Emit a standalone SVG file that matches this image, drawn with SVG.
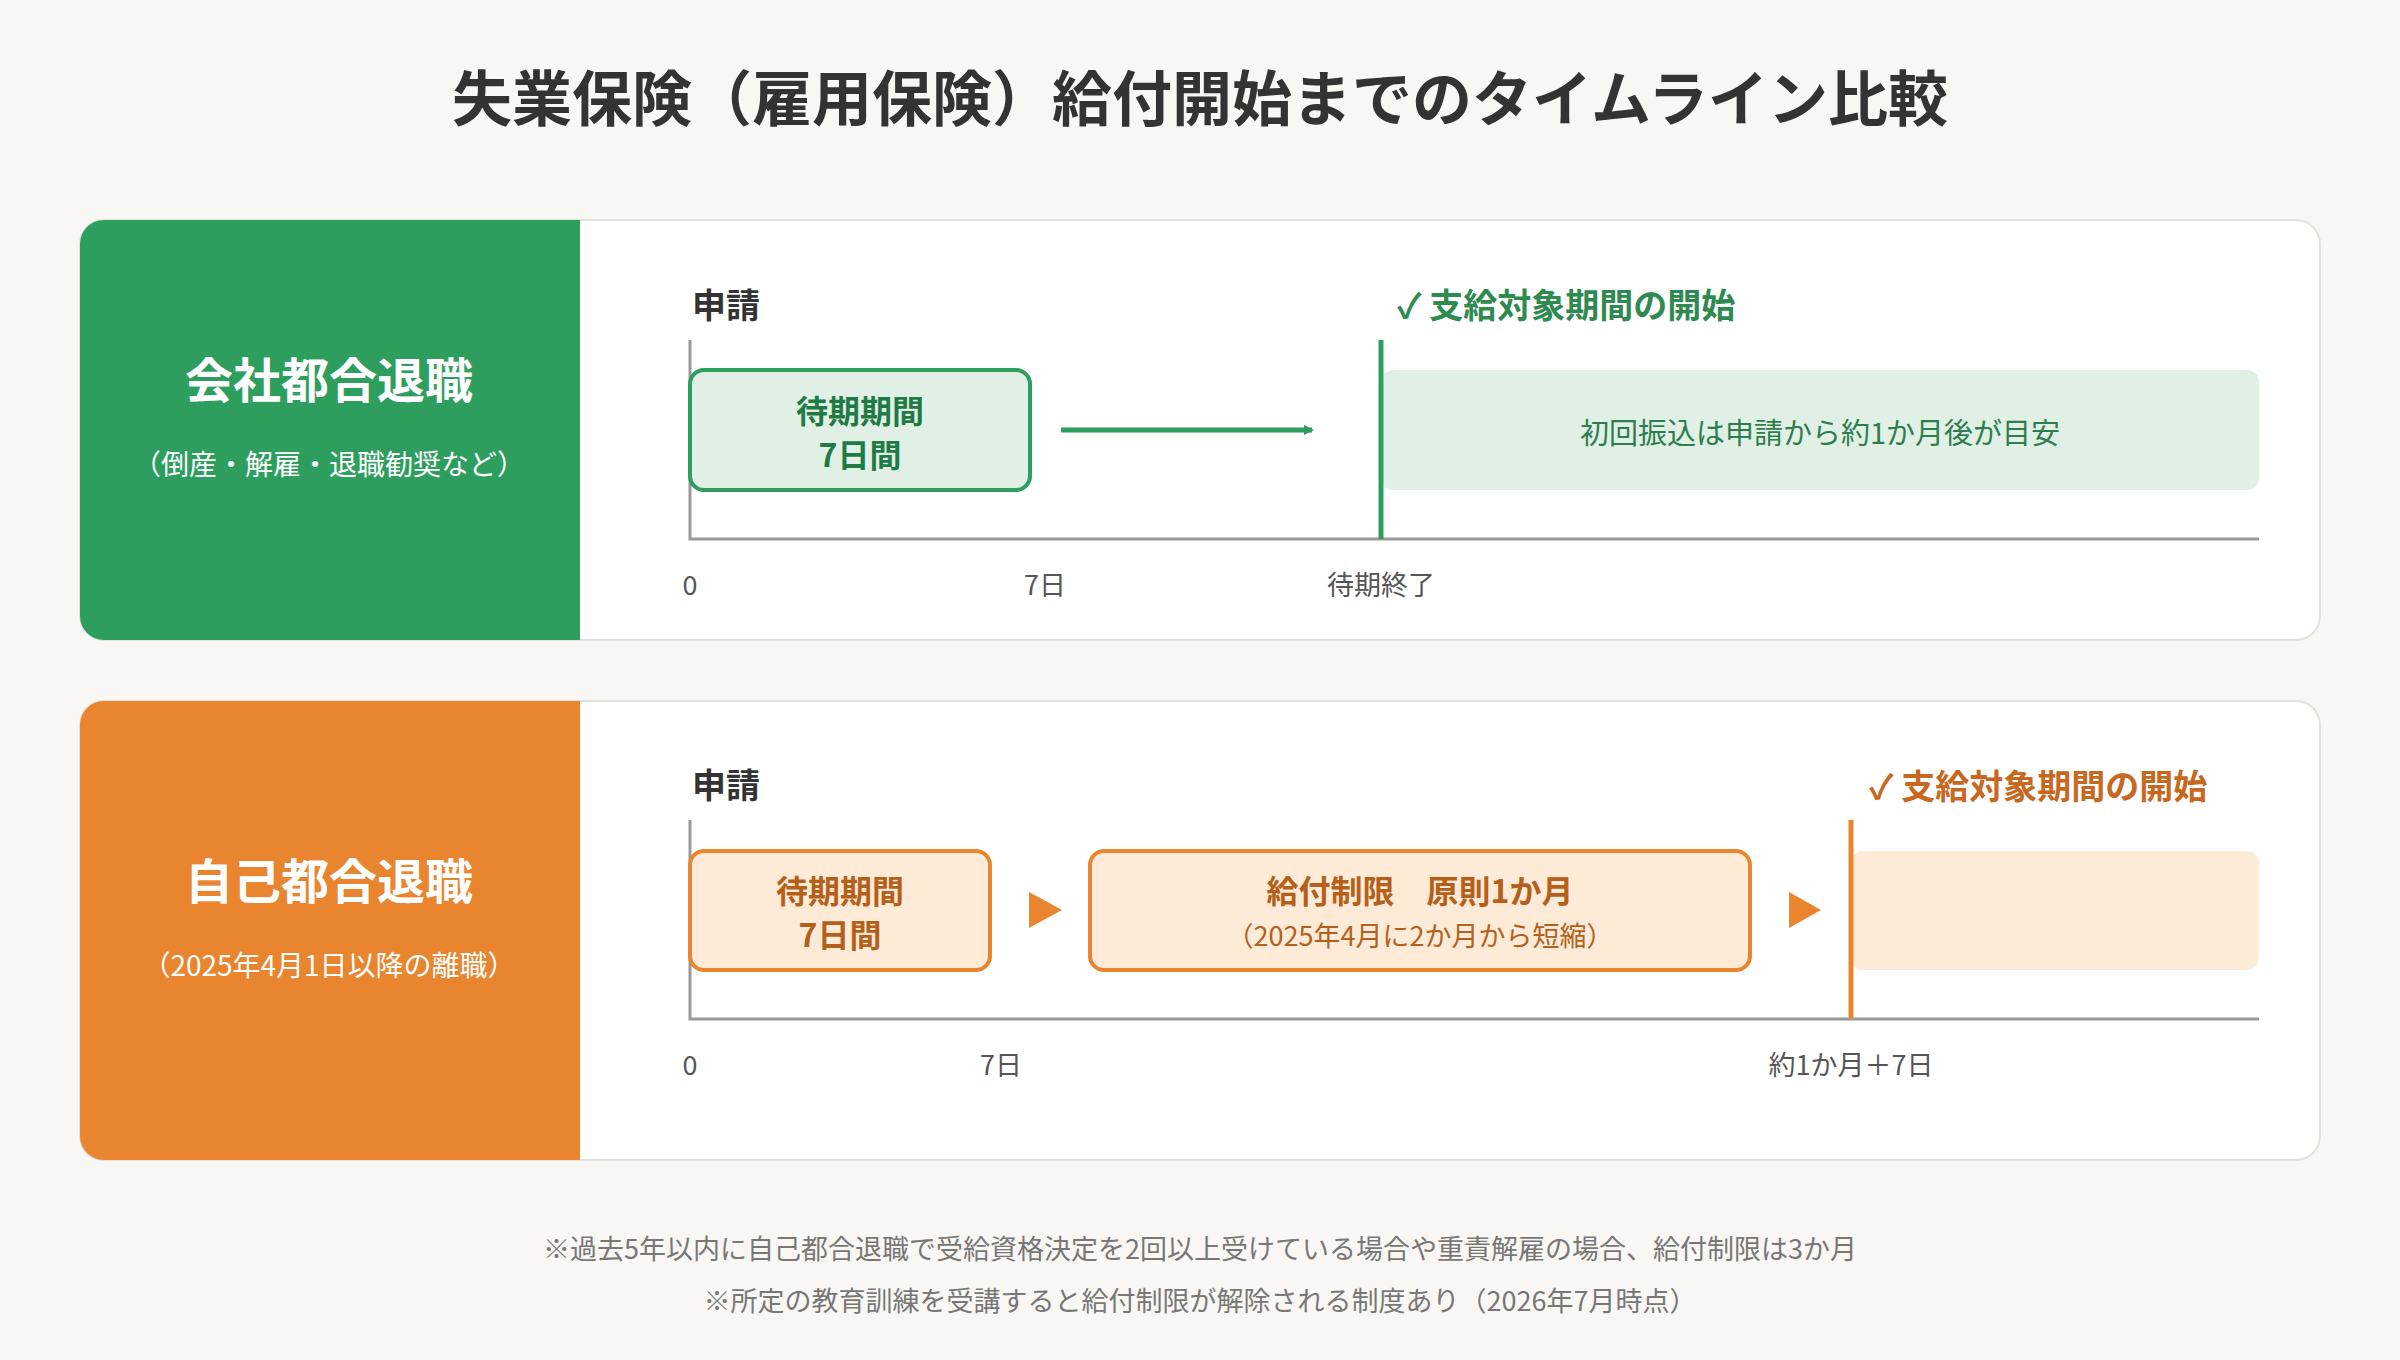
<svg xmlns="http://www.w3.org/2000/svg" width="2400" height="1360" viewBox="0 0 2400 1360">
<style>
text{font-family:"Noto Sans CJK JP","Noto Sans",sans-serif}
.title{font-size:60px;font-weight:700;fill:#333}
.lt{font-size:48px;font-weight:700;fill:#fff}
.ls{font-size:28px;fill:#fff}
.req{font-size:34px;font-weight:700;fill:#333}
.bx{font-size:32px;font-weight:700}
.tick{font-size:27px;fill:#555}
.note{font-size:27px;fill:#777}
.axis{stroke:#999;stroke-width:3;fill:none}
</style>
<defs>
<marker id="ag" markerWidth="10" markerHeight="10" refX="8" refY="5" orient="auto" markerUnits="userSpaceOnUse" viewBox="0 0 10 10"><path d="M0,0 L10,5 L0,10z" fill="#2E9E5E"/></marker>
</defs>
<rect width="2400" height="1360" fill="#F8F7F3"/>
<text class="title" x="1200" y="121" text-anchor="middle">失業保険（雇用保険）給付開始までのタイムライン比較</text>

<g id="card1">
<rect x="80" y="220" width="2240" height="420" rx="24" fill="#fff" stroke="#E2E2DC" stroke-width="2"/>
<path d="M104,220 H580 V640 H104 A24,24 0 0 1 80,616 V244 A24,24 0 0 1 104,220z" fill="#2E9E5E"/>
<text class="lt" x="329" y="398" text-anchor="middle">会社都合退職</text>
<text class="ls" x="329" y="475" text-anchor="middle">（倒産・解雇・退職勧奨など）</text>
</g>
<g id="tl1">
<text class="req" x="692" y="318">申請</text>
<path class="axis" d="M690,340 V539 H2259"/>
<rect x="690" y="370" width="340" height="120" rx="14" fill="#E0F0E5" stroke="#2E9E5E" stroke-width="4"/>
<text class="bx" x="860" y="423" text-anchor="middle" fill="#1F7A45">待期期間</text>
<text class="bx" x="860" y="467" text-anchor="middle" fill="#1F7A45">7日間</text>
<rect x="1381" y="370" width="878" height="120" rx="12" fill="#E0F0E5"/>
<text x="1820" y="444" text-anchor="middle" font-size="29" fill="#2E7D4F">初回振込は申請から約1か月後が目安</text>
<line x1="1381" y1="340" x2="1381" y2="539" stroke="#2E9E5E" stroke-width="5"/>
<text x="1397" y="318" font-size="34" font-weight="700" fill="#2E8A50">✓ 支給対象期間の開始</text>
<text class="tick" x="690" y="595" text-anchor="middle">0</text>
<text class="tick" x="1045" y="595" text-anchor="middle">7日</text>
<text class="tick" x="1381" y="595" text-anchor="middle">待期終了</text>
</g>

<g id="card2">
<rect x="80" y="701" width="2240" height="459" rx="24" fill="#fff" stroke="#E2E2DC" stroke-width="2"/>
<path d="M104,701 H580 V1160 H104 A24,24 0 0 1 80,1136 V725 A24,24 0 0 1 104,701z" fill="#E8852E"/>
<text class="lt" x="329" y="899" text-anchor="middle">自己都合退職</text>
<text class="ls" x="329" y="976" text-anchor="middle">（2025年4月1日以降の離職）</text>
</g>
<g id="tl2">
<text class="req" x="692" y="798">申請</text>
<path class="axis" d="M690,820 V1019 H2259"/>
<rect x="690" y="851" width="300" height="119" rx="14" fill="#FDEBD7" stroke="#E8852E" stroke-width="4"/>
<text class="bx" x="840" y="903" text-anchor="middle" fill="#B5601A">待期期間</text>
<text class="bx" x="840" y="947" text-anchor="middle" fill="#B5601A">7日間</text>
<rect x="1090" y="851" width="660" height="119" rx="14" fill="#FDEBD7" stroke="#E8852E" stroke-width="4"/>
<text class="bx" x="1420" y="903" text-anchor="middle" fill="#B5601A">給付制限　原則1か月</text>
<text x="1420" y="946" text-anchor="middle" font-size="27" fill="#B5601A">（2025年4月に2か月から短縮）</text>
<rect x="1851" y="851" width="408" height="119" rx="12" fill="#FDEBD7"/>
<line x1="1851" y1="820" x2="1851" y2="1019" stroke="#E8852E" stroke-width="5"/>
<text x="1869" y="799" font-size="34" font-weight="700" fill="#C8671E">✓ 支給対象期間の開始</text>
<text class="tick" x="690" y="1075" text-anchor="middle">0</text>
<text class="tick" x="1001" y="1075" text-anchor="middle">7日</text>
<text class="tick" x="1851" y="1075" text-anchor="middle">約1か月＋7日</text>
</g>

<g id="connectors">
<line x1="1061" y1="430" x2="1312" y2="430" stroke="#2E9E5E" stroke-width="5" marker-end="url(#ag)"/>
<path d="M1029,892 L1062,910 L1029,928z" fill="#E8852E"/>
<path d="M1789,892 L1821,910 L1789,928z" fill="#E8852E"/>
</g>

<text class="note" x="1200" y="1259" text-anchor="middle">※過去5年以内に自己都合退職で受給資格決定を2回以上受けている場合や重責解雇の場合、給付制限は3か月</text>
<text class="note" x="1200" y="1311" text-anchor="middle">※所定の教育訓練を受講すると給付制限が解除される制度あり（2026年7月時点）</text>
</svg>
